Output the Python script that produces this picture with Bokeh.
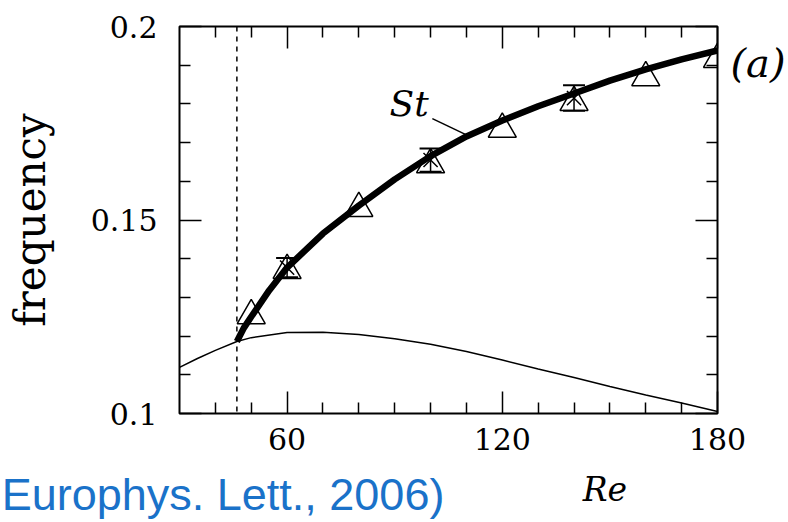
from bokeh.plotting import figure
from bokeh.models import Range1d, LinearAxis, FixedTicker, Span, Label
from bokeh.embed import file_html
from bokeh.resources import INLINE

# Critical Reynolds number (onset of vortex shedding)
re_crit = 46.0

# Thin line: frequency of the linear global mode
re_lin = [30, 35, 40, 46, 50, 60, 70, 80, 90, 100, 110, 120, 130, 140, 150, 160, 170, 180]
f_lin = [0.1119, 0.1142, 0.1163, 0.1186, 0.1196, 0.1209, 0.1210, 0.1204, 0.1193,
         0.1179, 0.1160, 0.1138, 0.1115, 0.1093, 0.1070, 0.1048, 0.1027, 0.1005]

# Thick line: Strouhal number St of the saturated wake
re_st = [46, 48, 50, 55, 60, 70, 80, 90, 100, 110, 120, 130, 140, 150, 160, 170, 180]
f_st = [0.1186, 0.1222, 0.1250, 0.1318, 0.1377, 0.1465, 0.1537, 0.1605, 0.1665,
        0.1716, 0.1757, 0.1794, 0.1827, 0.1860, 0.1889, 0.1915, 0.1938]

# Open triangles: frequencies from simulations
re_tri = [50, 60, 80, 100, 120, 140, 160, 180]
f_tri = [0.1253, 0.1370, 0.1530, 0.1643, 0.1735, 0.1804, 0.1868, 0.1915]

# Crosses with error bars
re_err = [60, 100, 140]
f_err = [0.1377, 0.1655, 0.1815]
df_err = [0.0025, 0.0030, 0.0033]

# Axis ticks
x_major = [60, 120, 180]
x_minor = [40, 50, 70, 80, 90, 100, 110, 130, 140, 150, 160, 170]
y_major = [0.1, 0.15, 0.2]
y_major_labels = ["0.1", "0.15", "0.2"]
y_minor = [0.11, 0.12, 0.13, 0.14, 0.16, 0.17, 0.18, 0.19]

# Texts set outside the frame, carried by tick-less axes
tag_text, tag_at = "(a)", 0.1906
xtitle_text, xtitle_at = "Re", 148.6
cite_text, cite_at = "Europhys. Lett., 2006)", 41.5

SERIF = "DejaVu Serif"
SANS = "Liberation Sans"
BLUE = "#1a72c9"

p = figure(width=788, height=522, output_backend="svg", toolbar_location=None,
           x_range=Range1d(30, 180), y_range=Range1d(0.1, 0.2),
           x_axis_location=None, y_axis_location=None,
           min_border_left=179, min_border_right=68,
           min_border_top=26, min_border_bottom=109)
p.grid.visible = False
p.background_fill_color = "white"
p.border_fill_color = "white"
p.outline_line_color = "black"
p.outline_line_width = 2


def style_axis(ax, labelled):
    ax.axis_line_color = None
    ax.major_tick_in = 22
    ax.major_tick_out = 0
    ax.minor_tick_in = 11
    ax.minor_tick_out = 0
    ax.major_tick_line_color = "black"
    ax.minor_tick_line_color = "black"
    ax.major_tick_line_width = 1.5
    ax.minor_tick_line_width = 1.5
    if labelled:
        ax.major_label_text_font = SERIF
        ax.major_label_text_font_size = "30px"
        ax.major_label_text_color = "black"
    else:
        ax.major_label_text_font_size = "0px"
        ax.major_label_text_color = None
        ax.major_label_standoff = 0


def text_axis(at, text, font, size, style, color, standoff):
    ax = LinearAxis(ticker=FixedTicker(ticks=[at], minor_ticks=[]),
                    major_label_overrides={at: text})
    ax.axis_line_color = None
    ax.major_tick_line_color = None
    ax.minor_tick_line_color = None
    ax.major_tick_in = 0
    ax.major_tick_out = 0
    ax.minor_tick_in = 0
    ax.minor_tick_out = 0
    ax.major_label_standoff = standoff
    ax.major_label_text_font = font
    ax.major_label_text_font_style = style
    ax.major_label_text_font_size = size
    ax.major_label_text_color = color
    return ax


x_ticker = FixedTicker(ticks=x_major, minor_ticks=x_minor)
y_ticker = FixedTicker(ticks=y_major, minor_ticks=y_minor)

bottom = LinearAxis(ticker=x_ticker)
style_axis(bottom, True)
bottom.major_label_standoff = 14
top = LinearAxis(ticker=x_ticker)
style_axis(top, False)

left = LinearAxis(ticker=y_ticker, axis_label="frequency")
style_axis(left, True)
left.major_label_standoff = 22
left.major_label_overrides = dict(zip(y_major, y_major_labels))
left.axis_label_text_font = SERIF
left.axis_label_text_font_style = "normal"
left.axis_label_text_font_size = "42px"
left.axis_label_text_color = "black"
left.axis_label_standoff = 33

right = LinearAxis(ticker=y_ticker)
style_axis(right, False)

tag = text_axis(tag_at, tag_text, SERIF, "40px", "italic", "black", 13)
xtitle = text_axis(xtitle_at, xtitle_text, SERIF, "33px", "italic", "black", 17)
cite = text_axis(cite_at, cite_text, SANS, "45px", "normal", BLUE, -43)

p.add_layout(bottom, "below")
p.add_layout(xtitle, "below")
p.add_layout(cite, "below")
p.add_layout(top, "above")
p.add_layout(left, "left")
p.add_layout(right, "right")
p.add_layout(tag, "right")

# Threshold of the instability
p.add_layout(Span(location=re_crit, dimension="height", line_color="black",
                  line_width=1.5, line_dash="5 5"))

# Linear frequency
p.line(re_lin, f_lin, line_color="black", line_width=1.5)

# Simulation points
p.scatter(re_tri, f_tri, marker="triangle", size=28, fill_color=None,
          line_color="black", line_width=1.5)
lo = [f - d for f, d in zip(f_err, df_err)]
hi = [f + d for f, d in zip(f_err, df_err)]
p.segment(re_err, lo, re_err, hi, line_color="black", line_width=1.5)
p.scatter(re_err, lo, marker="dash", size=22, line_color="black", line_width=2)
p.scatter(re_err, hi, marker="dash", size=22, line_color="black", line_width=2)
p.scatter(re_err, f_err, marker="x", size=20, line_color="black", line_width=1.5)

# Strouhal number curve
p.line(re_st, f_st, line_color="black", line_width=6.5)

# Annotation of the St curve
p.segment([100.5], [0.1762], [110], [0.1720], line_color="black", line_width=1.5)
p.add_layout(Label(x=94, y=0.1801, text="St", text_font=SERIF, text_font_style="italic",
                   text_font_size="36px", text_align="center", text_baseline="middle",
                   text_color="black"))

open("out.html", "w").write(file_html(p, INLINE))
